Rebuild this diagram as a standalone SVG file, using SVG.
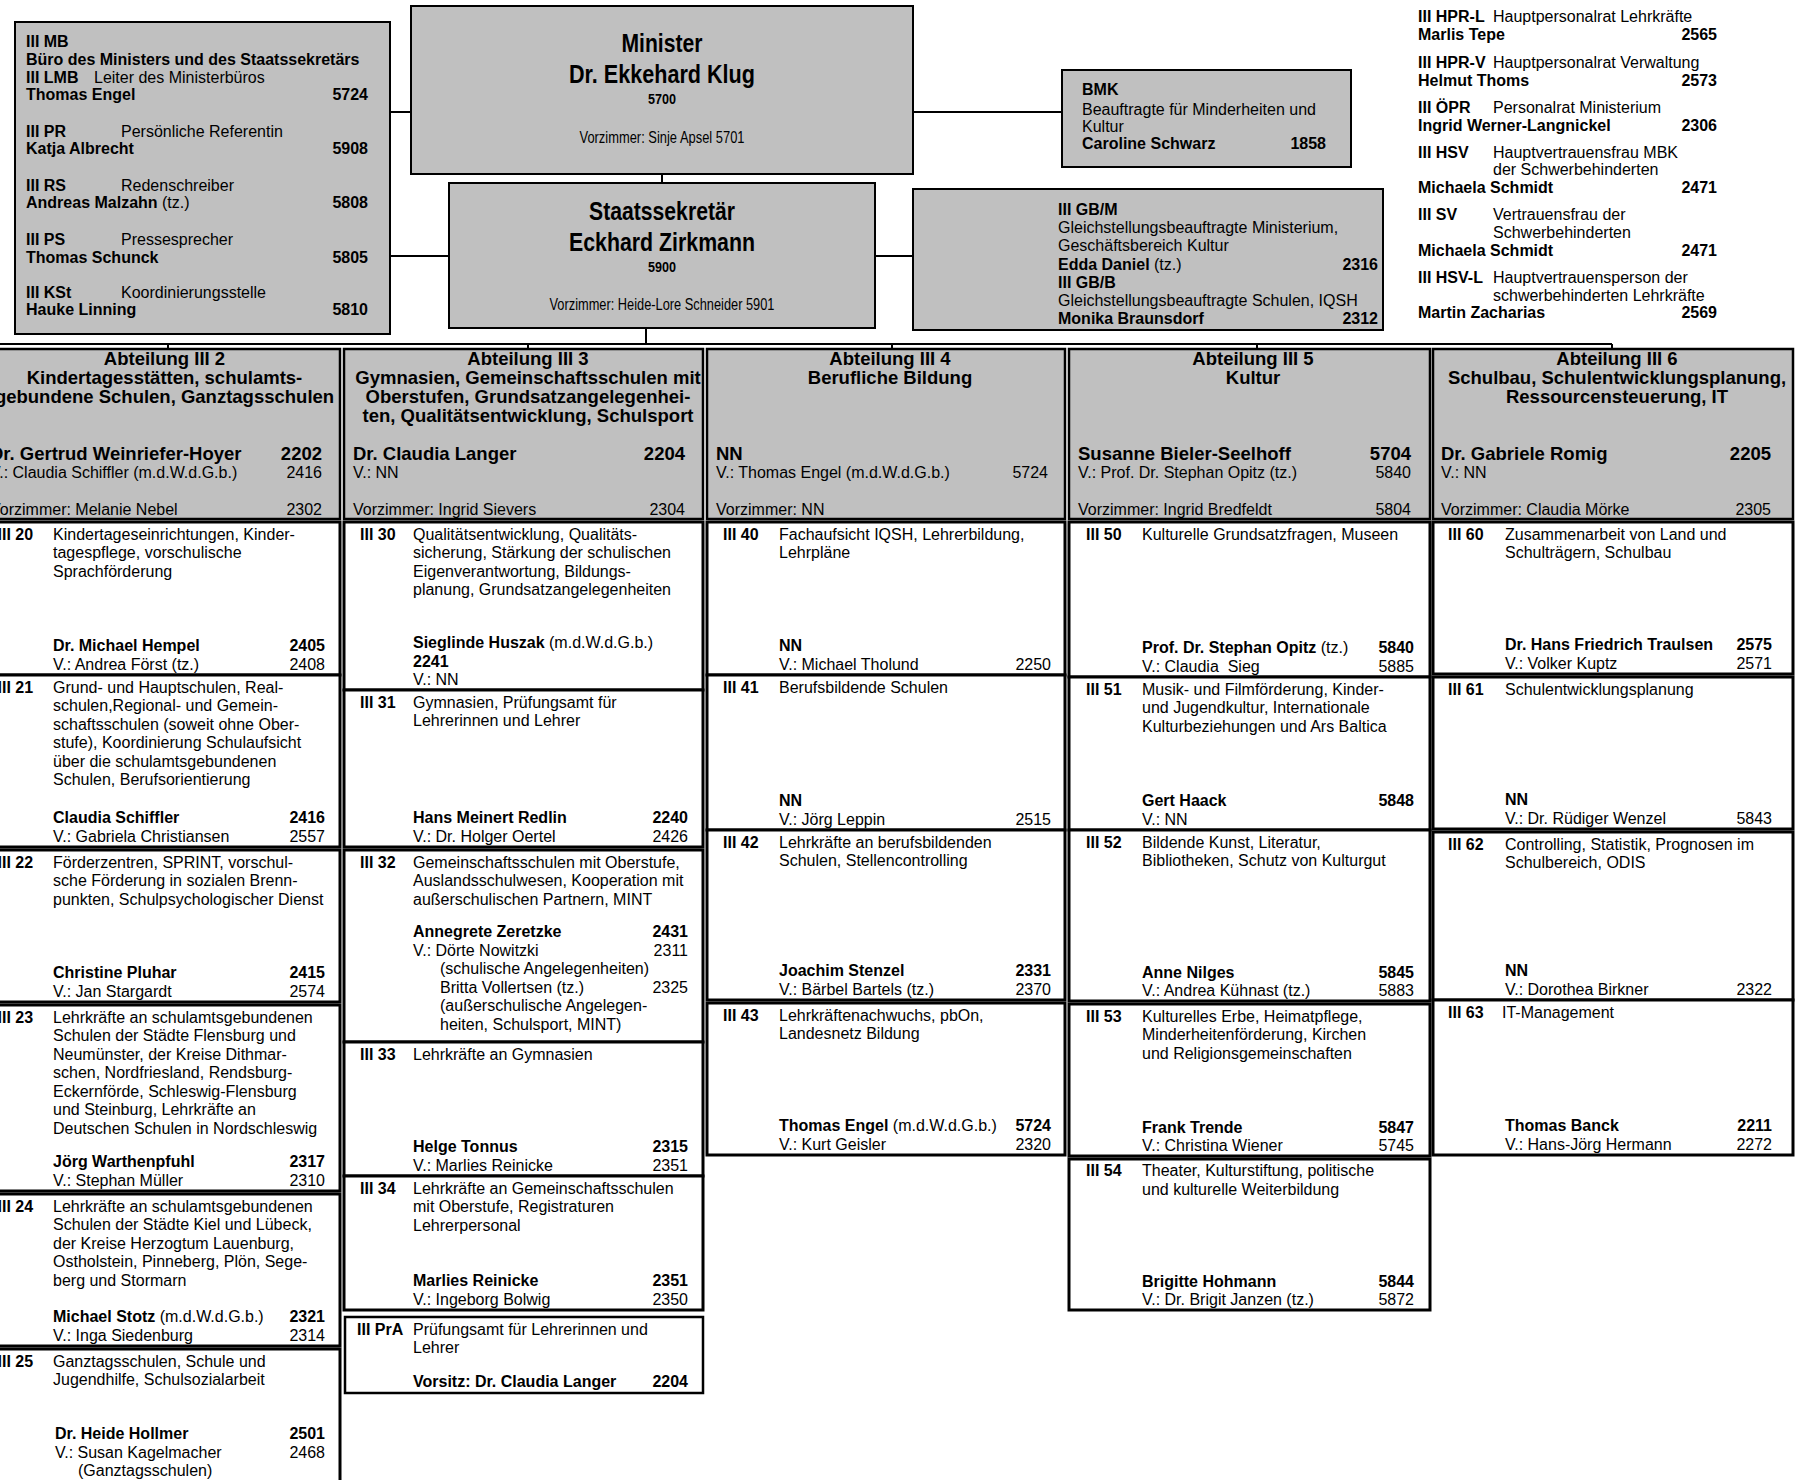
<svg xmlns="http://www.w3.org/2000/svg" width="1803" height="1480" viewBox="0 0 1803 1480">
<style>
text{font-family:'Liberation Sans',Arial,Helvetica,sans-serif;font-size:16px;fill:#000}
.b{font-weight:bold}
.r{text-anchor:end}
.c{text-anchor:middle}
.h{font-size:18.5px;font-weight:bold}
.n{font-size:25px;font-weight:bold}
.g{fill:#c0c0c0;stroke:#000;stroke-width:2}
.hd{fill:#c0c0c0;stroke:#000;stroke-width:2.5}
.s{fill:#fff;stroke:#000;stroke-width:3}
.cn path{stroke:#000;stroke-width:2;fill:none}
</style>
<rect x="0" y="0" width="1803" height="1480" fill="#fff"/>

<g id="connectors" class="cn">
<path d="M390 112H411"/>
<path d="M390 256H449"/>
<path d="M913 112H1062"/>
<path d="M875 256H913"/>
<path d="M662 174V183"/>
<path d="M646 328V344"/>
<path d="M-20 344H1612"/>
<path d="M168 344V349"/>
<path d="M528 344V349"/>
<path d="M892 344V349"/>
<path d="M1257 344V349"/>
<path d="M1612 344V349"/>
</g>

<g id="ministerbuero">
<rect class="g" x="15" y="22" width="375" height="312"/>
<text class="b" x="26" y="47">III MB</text>
<text class="b" x="26" y="64.5">Büro des Ministers und des Staatssekretärs</text>
<text class="b" x="26" y="82.5">III LMB</text><text x="94" y="82.5">Leiter des Ministerbüros</text>
<text class="b" x="26" y="100">Thomas Engel</text><text class="b r" x="368" y="100">5724</text>
<text class="b" x="26" y="137">III PR</text><text x="121" y="137">Persönliche Referentin</text>
<text class="b" x="26" y="154">Katja Albrecht</text><text class="b r" x="368" y="154">5908</text>
<text class="b" x="26" y="191">III RS</text><text x="121" y="191">Redenschreiber</text>
<text x="26" y="208"><tspan class="b">Andreas Malzahn</tspan> (tz.)</text><text class="b r" x="368" y="208">5808</text>
<text class="b" x="26" y="245">III PS</text><text x="121" y="245">Pressesprecher</text>
<text class="b" x="26" y="263">Thomas Schunck</text><text class="b r" x="368" y="263">5805</text>
<text class="b" x="26" y="298">III KSt</text><text x="121" y="298">Koordinierungsstelle</text>
<text class="b" x="26" y="315">Hauke Linning</text><text class="b r" x="368" y="315">5810</text>
</g>

<g id="minister">
<rect class="g" x="411" y="6" width="502" height="168"/>
<text class="n c" x="662" y="52" textLength="81" lengthAdjust="spacingAndGlyphs">Minister</text>
<text class="n c" x="662" y="83" textLength="186" lengthAdjust="spacingAndGlyphs">Dr. Ekkehard Klug</text>
<text class="b c" x="662" y="104" style="font-size:14px" textLength="28" lengthAdjust="spacingAndGlyphs">5700</text>
<text class="c" x="662" y="143" style="font-size:16.5px" textLength="165" lengthAdjust="spacingAndGlyphs">Vorzimmer: Sinje Apsel 5701</text>
</g>

<g id="staatssekretaer">
<rect class="g" x="449" y="183" width="426" height="145"/>
<text class="n c" x="662" y="220" textLength="146" lengthAdjust="spacingAndGlyphs">Staatssekretär</text>
<text class="n c" x="662" y="251" textLength="186" lengthAdjust="spacingAndGlyphs">Eckhard Zirkmann</text>
<text class="b c" x="662" y="272" style="font-size:14px" textLength="28" lengthAdjust="spacingAndGlyphs">5900</text>
<text class="c" x="662" y="310" style="font-size:16.5px" textLength="225" lengthAdjust="spacingAndGlyphs">Vorzimmer: Heide-Lore Schneider 5901</text>
</g>

<g id="bmk">
<rect class="g" x="1062" y="70" width="289" height="97"/>
<text class="b" x="1082" y="95">BMK</text>
<text x="1082" y="115">Beauftragte für Minderheiten und</text>
<text x="1082" y="132">Kultur</text>
<text class="b" x="1082" y="149">Caroline Schwarz</text><text class="b r" x="1326" y="149">1858</text>
</g>

<g id="gleichstellung">
<rect class="g" x="913" y="189" width="470" height="141"/>
<text class="b" x="1058" y="215">III GB/M</text>
<text x="1058" y="233">Gleichstellungsbeauftragte Ministerium,</text>
<text x="1058" y="251">Geschäftsbereich Kultur</text>
<text x="1058" y="269.5"><tspan class="b">Edda Daniel</tspan> (tz.)</text><text class="b r" x="1378" y="269.5">2316</text>
<text class="b" x="1058" y="287.5">III GB/B</text>
<text x="1058" y="306">Gleichstellungsbeauftragte Schulen, IQSH</text>
<text class="b" x="1058" y="324">Monika Braunsdorf</text><text class="b r" x="1378" y="324">2312</text>
</g>

<g id="personalvertretungen">
<text class="b" x="1418" y="22">III HPR-L</text><text x="1493" y="22">Hauptpersonalrat Lehrkräfte</text>
<text class="b" x="1418" y="40">Marlis Tepe</text><text class="b r" x="1717" y="40">2565</text>
<text class="b" x="1418" y="68">III HPR-V</text><text x="1493" y="68">Hauptpersonalrat Verwaltung</text>
<text class="b" x="1418" y="86">Helmut Thoms</text><text class="b r" x="1717" y="86">2573</text>
<text class="b" x="1418" y="113">III ÖPR</text><text x="1493" y="113">Personalrat Ministerium</text>
<text class="b" x="1418" y="131">Ingrid Werner-Langnickel</text><text class="b r" x="1717" y="131">2306</text>
<text class="b" x="1418" y="158">III HSV</text><text x="1493" y="158">Hauptvertrauensfrau MBK</text>
<text x="1493" y="175">der Schwerbehinderten</text>
<text class="b" x="1418" y="193">Michaela Schmidt</text><text class="b r" x="1717" y="193">2471</text>
<text class="b" x="1418" y="220">III SV</text><text x="1493" y="220">Vertrauensfrau der</text>
<text x="1493" y="238">Schwerbehinderten</text>
<text class="b" x="1418" y="256">Michaela Schmidt</text><text class="b r" x="1717" y="256">2471</text>
<text class="b" x="1418" y="283">III HSV-L</text><text x="1493" y="283">Hauptvertrauensperson der</text>
<text x="1493" y="301">schwerbehinderten Lehrkräfte</text>
<text class="b" x="1418" y="318">Martin Zacharias</text><text class="b r" x="1717" y="318">2569</text>
</g>

<!-- Abteilung III 2 -->
<g id="abt-iii-2">
<rect class="hd" x="-19" y="349" width="359" height="170"/>
<text class="h c" x="164.5" y="365">Abteilung III 2</text>
<text class="h c" x="164.5" y="384">Kindertagesstätten, schulamts-</text>
<text class="h c" x="164.5" y="403">gebundene Schulen, Ganztagsschulen</text>
<text class="h" x="-10" y="460">Dr. Gertrud Weinriefer-Hoyer</text><text class="h r" x="322" y="460">2202</text>
<text x="-10" y="478">V.: Claudia Schiffler (m.d.W.d.G.b.)</text><text class="r" x="322" y="478">2416</text>
<text x="-10" y="515">Vorzimmer: Melanie Nebel</text><text class="r" x="322" y="515">2302</text>
</g>
<g id="iii-20">
<rect class="s" x="-19" y="522" width="359" height="153"/>
<text class="b" x="-2.5" y="539.5">III 20</text>
<text x="53" y="539.5">Kindertageseinrichtungen, Kinder-</text>
<text x="53" y="558">tagespflege, vorschulische</text>
<text x="53" y="576.5">Sprachförderung</text>
<text class="b" x="53" y="651">Dr. Michael Hempel</text><text class="b r" x="325" y="651">2405</text>
<text x="53" y="670">V.: Andrea Först (tz.)</text><text class="r" x="325" y="670">2408</text>
</g>
<g id="iii-21">
<rect class="s" x="-19" y="675" width="359" height="172"/>
<text class="b" x="-2.5" y="692.5">III 21</text>
<text x="53" y="692.5">Grund- und Hauptschulen, Real-</text>
<text x="53" y="711">schulen,Regional- und Gemein-</text>
<text x="53" y="729.5">schaftsschulen (soweit ohne Ober-</text>
<text x="53" y="748">stufe), Koordinierung Schulaufsicht</text>
<text x="53" y="766.5">über die schulamtsgebundenen</text>
<text x="53" y="785">Schulen, Berufsorientierung</text>
<text class="b" x="53" y="823">Claudia Schiffler</text><text class="b r" x="325" y="823">2416</text>
<text x="53" y="842">V.: Gabriela Christiansen</text><text class="r" x="325" y="842">2557</text>
</g>
<g id="iii-22">
<rect class="s" x="-19" y="850" width="359" height="152"/>
<text class="b" x="-2.5" y="867.5">III 22</text>
<text x="53" y="867.5">Förderzentren, SPRINT, vorschul-</text>
<text x="53" y="886">sche Förderung in sozialen Brenn-</text>
<text x="53" y="904.5">punkten, Schulpsychologischer Dienst</text>
<text class="b" x="53" y="978">Christine Pluhar</text><text class="b r" x="325" y="978">2415</text>
<text x="53" y="997">V.: Jan Stargardt</text><text class="r" x="325" y="997">2574</text>
</g>
<g id="iii-23">
<rect class="s" x="-19" y="1005" width="359" height="186"/>
<text class="b" x="-2.5" y="1022.5">III 23</text>
<text x="53" y="1022.5">Lehrkräfte an schulamtsgebundenen</text>
<text x="53" y="1041">Schulen der Städte Flensburg und</text>
<text x="53" y="1059.5">Neumünster, der Kreise Dithmar-</text>
<text x="53" y="1078">schen, Nordfriesland, Rendsburg-</text>
<text x="53" y="1096.5">Eckernförde, Schleswig-Flensburg</text>
<text x="53" y="1115">und Steinburg, Lehrkräfte an</text>
<text x="53" y="1133.5">Deutschen Schulen in Nordschleswig</text>
<text class="b" x="53" y="1167">Jörg Warthenpfuhl</text><text class="b r" x="325" y="1167">2317</text>
<text x="53" y="1186">V.: Stephan Müller</text><text class="r" x="325" y="1186">2310</text>
</g>
<g id="iii-24">
<rect class="s" x="-19" y="1194" width="359" height="152"/>
<text class="b" x="-2.5" y="1211.5">III 24</text>
<text x="53" y="1211.5">Lehrkräfte an schulamtsgebundenen</text>
<text x="53" y="1230">Schulen der Städte Kiel und Lübeck,</text>
<text x="53" y="1248.5">der Kreise Herzogtum Lauenburg,</text>
<text x="53" y="1267">Ostholstein, Pinneberg, Plön, Sege-</text>
<text x="53" y="1285.5">berg und Stormarn</text>
<text x="53" y="1322"><tspan class="b">Michael Stotz</tspan> (m.d.W.d.G.b.)</text><text class="b r" x="325" y="1322">2321</text>
<text x="53" y="1341">V.: Inga Siedenburg</text><text class="r" x="325" y="1341">2314</text>
</g>
<g id="iii-25">
<rect class="s" x="-19" y="1349" width="359" height="151"/>
<text class="b" x="-2.5" y="1366.5">III 25</text>
<text x="53" y="1366.5">Ganztagsschulen, Schule und</text>
<text x="53" y="1385">Jugendhilfe, Schulsozialarbeit</text>
<text class="b" x="55" y="1439">Dr. Heide Hollmer</text><text class="b r" x="325" y="1439">2501</text>
<text x="55" y="1457.5">V.: Susan Kagelmacher</text><text class="r" x="325" y="1457.5">2468</text>
<text x="78" y="1476">(Ganztagsschulen)</text>
</g>

<!-- Abteilung III 3 -->
<g id="abt-iii-3">
<rect class="hd" x="344" y="349" width="359" height="170"/>
<text class="h c" x="528" y="365">Abteilung III 3</text>
<text class="h c" x="528" y="384">Gymnasien, Gemeinschaftsschulen mit</text>
<text class="h c" x="528" y="403">Oberstufen, Grundsatzangelegenhei-</text>
<text class="h c" x="528" y="421.5">ten, Qualitätsentwicklung, Schulsport</text>
<text class="h" x="353" y="460">Dr. Claudia Langer</text><text class="h r" x="685" y="460">2204</text>
<text x="353" y="478">V.: NN</text>
<text x="353" y="515">Vorzimmer: Ingrid Sievers</text><text class="r" x="685" y="515">2304</text>
</g>
<g id="iii-30">
<rect class="s" x="344" y="522" width="359" height="168"/>
<text class="b" x="360" y="539.5">III 30</text>
<text x="413" y="539.5">Qualitätsentwicklung, Qualitäts-</text>
<text x="413" y="558">sicherung, Stärkung der schulischen</text>
<text x="413" y="576.5">Eigenverantwortung, Bildungs-</text>
<text x="413" y="595">planung, Grundsatzangelegenheiten</text>
<text x="413" y="648"><tspan class="b">Sieglinde Huszak</tspan> (m.d.W.d.G.b.)</text>
<text class="b" x="413" y="666.5">2241</text>
<text x="413" y="685">V.: NN</text>
</g>
<g id="iii-31">
<rect class="s" x="344" y="690" width="359" height="157"/>
<text class="b" x="360" y="707.5">III 31</text>
<text x="413" y="707.5">Gymnasien, Prüfungsamt für</text>
<text x="413" y="726">Lehrerinnen und Lehrer</text>
<text class="b" x="413" y="823">Hans Meinert Redlin</text><text class="b r" x="688" y="823">2240</text>
<text x="413" y="842">V.: Dr. Holger Oertel</text><text class="r" x="688" y="842">2426</text>
</g>
<g id="iii-32">
<rect class="s" x="344" y="850" width="359" height="192"/>
<text class="b" x="360" y="867.5">III 32</text>
<text x="413" y="867.5">Gemeinschaftsschulen mit Oberstufe,</text>
<text x="413" y="886">Auslandsschulwesen, Kooperation mit</text>
<text x="413" y="904.5">außerschulischen Partnern, MINT</text>
<text class="b" x="413" y="937">Annegrete Zeretzke</text><text class="b r" x="688" y="937">2431</text>
<text x="413" y="955.5">V.: Dörte Nowitzki</text><text class="r" x="688" y="955.5">2311</text>
<text x="440" y="974">(schulische Angelegenheiten)</text>
<text x="440" y="992.5">Britta Vollertsen (tz.)</text><text class="r" x="688" y="992.5">2325</text>
<text x="440" y="1011">(außerschulische Angelegen-</text>
<text x="440" y="1029.5">heiten, Schulsport, MINT)</text>
</g>
<g id="iii-33">
<rect class="s" x="344" y="1042" width="359" height="134"/>
<text class="b" x="360" y="1059.5">III 33</text>
<text x="413" y="1059.5">Lehrkräfte an Gymnasien</text>
<text class="b" x="413" y="1152">Helge Tonnus</text><text class="b r" x="688" y="1152">2315</text>
<text x="413" y="1171">V.: Marlies Reinicke</text><text class="r" x="688" y="1171">2351</text>
</g>
<g id="iii-34">
<rect class="s" x="344" y="1176" width="359" height="134"/>
<text class="b" x="360" y="1193.5">III 34</text>
<text x="413" y="1193.5">Lehrkräfte an Gemeinschaftsschulen</text>
<text x="413" y="1212">mit Oberstufe, Registraturen</text>
<text x="413" y="1230.5">Lehrerpersonal</text>
<text class="b" x="413" y="1286">Marlies Reinicke</text><text class="b r" x="688" y="1286">2351</text>
<text x="413" y="1305">V.: Ingeborg Bolwig</text><text class="r" x="688" y="1305">2350</text>
</g>
<g id="iii-pra">
<rect class="s" x="345" y="1317" width="358" height="76" style="stroke-width:2.5"/>
<text class="b" x="357" y="1334.5">III PrA</text>
<text x="413" y="1334.5">Prüfungsamt für Lehrerinnen und</text>
<text x="413" y="1353">Lehrer</text>
<text class="b" x="413" y="1387">Vorsitz: Dr. Claudia Langer</text><text class="b r" x="688" y="1387">2204</text>
</g>

<!-- Abteilung III 4 -->
<g id="abt-iii-4">
<rect class="hd" x="707" y="349" width="358" height="170"/>
<text class="h c" x="890" y="365">Abteilung III 4</text>
<text class="h c" x="890" y="384">Berufliche Bildung</text>
<text class="h" x="716" y="460">NN</text>
<text x="716" y="478">V.: Thomas Engel (m.d.W.d.G.b.)</text><text class="r" x="1048" y="478">5724</text>
<text x="716" y="515">Vorzimmer: NN</text>
</g>
<g id="iii-40">
<rect class="s" x="707" y="522" width="358" height="153"/>
<text class="b" x="723" y="539.5">III 40</text>
<text x="779" y="539.5">Fachaufsicht IQSH, Lehrerbildung,</text>
<text x="779" y="558">Lehrpläne</text>
<text class="b" x="779" y="651">NN</text>
<text x="779" y="670">V.: Michael Tholund</text><text class="r" x="1051" y="670">2250</text>
</g>
<g id="iii-41">
<rect class="s" x="707" y="675" width="358" height="155"/>
<text class="b" x="723" y="692.5">III 41</text>
<text x="779" y="692.5">Berufsbildende Schulen</text>
<text class="b" x="779" y="806">NN</text>
<text x="779" y="825">V.: Jörg Leppin</text><text class="r" x="1051" y="825">2515</text>
</g>
<g id="iii-42">
<rect class="s" x="707" y="830" width="358" height="170"/>
<text class="b" x="723" y="847.5">III 42</text>
<text x="779" y="847.5">Lehrkräfte an berufsbildenden</text>
<text x="779" y="866">Schulen, Stellencontrolling</text>
<text class="b" x="779" y="976">Joachim Stenzel</text><text class="b r" x="1051" y="976">2331</text>
<text x="779" y="995">V.: Bärbel Bartels (tz.)</text><text class="r" x="1051" y="995">2370</text>
</g>
<g id="iii-43">
<rect class="s" x="707" y="1003" width="358" height="152"/>
<text class="b" x="723" y="1020.5">III 43</text>
<text x="779" y="1020.5">Lehrkräftenachwuchs, pbOn,</text>
<text x="779" y="1039">Landesnetz Bildung</text>
<text x="779" y="1131"><tspan class="b">Thomas Engel</tspan> (m.d.W.d.G.b.)</text><text class="b r" x="1051" y="1131">5724</text>
<text x="779" y="1150">V.: Kurt Geisler</text><text class="r" x="1051" y="1150">2320</text>
</g>

<!-- Abteilung III 5 -->
<g id="abt-iii-5">
<rect class="hd" x="1069" y="349" width="361" height="170"/>
<text class="h c" x="1253" y="365">Abteilung III 5</text>
<text class="h c" x="1253" y="384">Kultur</text>
<text class="h" x="1078" y="460">Susanne Bieler-Seelhoff</text><text class="h r" x="1411" y="460">5704</text>
<text x="1078" y="478">V.: Prof. Dr. Stephan Opitz (tz.)</text><text class="r" x="1411" y="478">5840</text>
<text x="1078" y="515">Vorzimmer: Ingrid Bredfeldt</text><text class="r" x="1411" y="515">5804</text>
</g>
<g id="iii-50">
<rect class="s" x="1069" y="522" width="361" height="155"/>
<text class="b" x="1086" y="539.5">III 50</text>
<text x="1142" y="539.5">Kulturelle Grundsatzfragen, Museen</text>
<text x="1142" y="653"><tspan class="b">Prof. Dr. Stephan Opitz</tspan> (tz.)</text><text class="b r" x="1414" y="653">5840</text>
<text x="1142" y="672">V.: Claudia&#160; Sieg</text><text class="r" x="1414" y="672">5885</text>
</g>
<g id="iii-51">
<rect class="s" x="1069" y="677" width="361" height="153"/>
<text class="b" x="1086" y="694.5">III 51</text>
<text x="1142" y="694.5">Musik- und Filmförderung, Kinder-</text>
<text x="1142" y="713">und Jugendkultur, Internationale</text>
<text x="1142" y="731.5">Kulturbeziehungen und Ars Baltica</text>
<text class="b" x="1142" y="806">Gert Haack</text><text class="b r" x="1414" y="806">5848</text>
<text x="1142" y="825">V.: NN</text>
</g>
<g id="iii-52">
<rect class="s" x="1069" y="830" width="361" height="171"/>
<text class="b" x="1086" y="847.5">III 52</text>
<text x="1142" y="847.5">Bildende Kunst, Literatur,</text>
<text x="1142" y="866">Bibliotheken, Schutz von Kulturgut</text>
<text class="b" x="1142" y="977.5">Anne Nilges</text><text class="b r" x="1414" y="977.5">5845</text>
<text x="1142" y="996">V.: Andrea Kühnast (tz.)</text><text class="r" x="1414" y="996">5883</text>
</g>
<g id="iii-53">
<rect class="s" x="1069" y="1004" width="361" height="152"/>
<text class="b" x="1086" y="1021.5">III 53</text>
<text x="1142" y="1021.5">Kulturelles Erbe, Heimatpflege,</text>
<text x="1142" y="1040">Minderheitenförderung, Kirchen</text>
<text x="1142" y="1058.5">und Religionsgemeinschaften</text>
<text class="b" x="1142" y="1132.5">Frank Trende</text><text class="b r" x="1414" y="1132.5">5847</text>
<text x="1142" y="1151">V.: Christina Wiener</text><text class="r" x="1414" y="1151">5745</text>
</g>
<g id="iii-54">
<rect class="s" x="1069" y="1159" width="361" height="151"/>
<text class="b" x="1086" y="1176">III 54</text>
<text x="1142" y="1176">Theater, Kulturstiftung, politische</text>
<text x="1142" y="1194.5">und kulturelle Weiterbildung</text>
<text class="b" x="1142" y="1286.5">Brigitte Hohmann</text><text class="b r" x="1414" y="1286.5">5844</text>
<text x="1142" y="1305">V.: Dr. Brigit Janzen (tz.)</text><text class="r" x="1414" y="1305">5872</text>
</g>

<!-- Abteilung III 6 -->
<g id="abt-iii-6">
<rect class="hd" x="1433" y="349" width="360" height="170"/>
<text class="h c" x="1617" y="365">Abteilung III 6</text>
<text class="h c" x="1617" y="384">Schulbau, Schulentwicklungsplanung,</text>
<text class="h c" x="1617" y="403">Ressourcensteuerung, IT</text>
<text class="h" x="1441" y="460">Dr. Gabriele Romig</text><text class="h r" x="1771" y="460">2205</text>
<text x="1441" y="478">V.: NN</text>
<text x="1441" y="515">Vorzimmer: Claudia Mörke</text><text class="r" x="1771" y="515">2305</text>
</g>
<g id="iii-60">
<rect class="s" x="1433" y="522" width="360" height="152"/>
<text class="b" x="1448" y="539.5">III 60</text>
<text x="1505" y="539.5">Zusammenarbeit von Land und</text>
<text x="1505" y="558">Schulträgern, Schulbau</text>
<text class="b" x="1505" y="650">Dr. Hans Friedrich Traulsen</text><text class="b r" x="1772" y="650">2575</text>
<text x="1505" y="669">V.: Volker Kuptz</text><text class="r" x="1772" y="669">2571</text>
</g>
<g id="iii-61">
<rect class="s" x="1433" y="677" width="360" height="152"/>
<text class="b" x="1448" y="694.5">III 61</text>
<text x="1505" y="694.5">Schulentwicklungsplanung</text>
<text class="b" x="1505" y="805">NN</text>
<text x="1505" y="824">V.: Dr. Rüdiger Wenzel</text><text class="r" x="1772" y="824">5843</text>
</g>
<g id="iii-62">
<rect class="s" x="1433" y="832" width="360" height="168"/>
<text class="b" x="1448" y="849.5">III 62</text>
<text x="1505" y="849.5">Controlling, Statistik, Prognosen im</text>
<text x="1505" y="868">Schulbereich, ODIS</text>
<text class="b" x="1505" y="976">NN</text>
<text x="1505" y="995">V.: Dorothea Birkner</text><text class="r" x="1772" y="995">2322</text>
</g>
<g id="iii-63">
<rect class="s" x="1433" y="1000" width="360" height="155"/>
<text class="b" x="1448" y="1017.5">III 63</text>
<text x="1502" y="1017.5">IT-Management</text>
<text class="b" x="1505" y="1131">Thomas Banck</text><text class="b r" x="1772" y="1131">2211</text>
<text x="1505" y="1150">V.: Hans-Jörg Hermann</text><text class="r" x="1772" y="1150">2272</text>
</g>
</svg>
